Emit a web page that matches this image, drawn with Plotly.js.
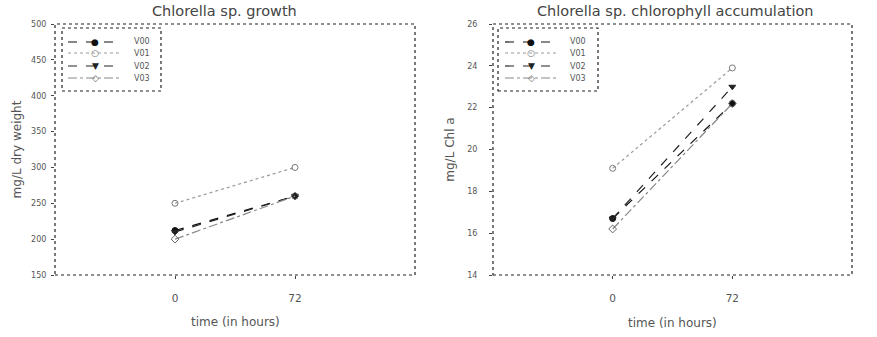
<!DOCTYPE html>
<html>
<head>
<meta charset="utf-8">
<script src="https://cdn.plot.ly/plotly-3.0.1.min.js"></script>
<style>html,body{margin:0;padding:0;background:#fff}#chart{width:877px;height:337px}</style>
</head>
<body>
<div id="chart"></div>
<script>
const times = [0, 72];
const xTickLabels = ["0", "72"];
const seriesNames = ["V00", "V01", "V02", "V03"];
const growthV00 = [212, 260];
const growthV01 = [250, 300];
const growthV02 = [210, 260];
const growthV03 = [200, 260];
const chlV00 = [16.7, 22.2];
const chlV01 = [19.1, 23.9];
const chlV02 = [16.7, 23.0];
const chlV03 = [16.2, 22.2];

const styles = [
  {color: '#111', dash: 'dash', symbol: 'circle', mcolor: '#111', glyph: '●'},
  {color: '#999', dash: 'dot', symbol: 'circle-open', mcolor: '#777', glyph: '○'},
  {color: '#222', dash: 'dash', symbol: 'triangle-down', mcolor: '#222', glyph: '▼'},
  {color: '#888', dash: 'dashdot', symbol: 'diamond-open', mcolor: '#666', glyph: '◇'}
];
const growth = [growthV00, growthV01, growthV02, growthV03];
const chl = [chlV00, chlV01, chlV02, chlV03];

const traces = [];
growth.forEach((ys, i) => traces.push({
  x: times, y: ys, name: seriesNames[i], type: 'scatter', mode: 'lines+markers',
  xaxis: 'x', yaxis: 'y', showlegend: false,
  line: {color: styles[i].color, dash: styles[i].dash, width: 1.2},
  marker: {symbol: styles[i].symbol, color: styles[i].mcolor, size: 6, line: {color: styles[i].mcolor, width: 1}}
}));
chl.forEach((ys, i) => traces.push({
  x: times, y: ys, name: seriesNames[i], type: 'scatter', mode: 'lines+markers',
  xaxis: 'x2', yaxis: 'y2', showlegend: false,
  line: {color: styles[i].color, dash: styles[i].dash, width: 1.2},
  marker: {symbol: styles[i].symbol, color: styles[i].mcolor, size: 6, line: {color: styles[i].mcolor, width: 1}}
}));

const W = 877, H = 337;
const px = v => v / W, py = v => 1 - v / H;
const tickFont = {family: 'DejaVu Sans', size: 8, color: '#555'};
const xAxisBase = {
  range: [-72, 144], tickvals: times, ticktext: xTickLabels, showgrid: false, zeroline: false,
  showline: false, ticks: 'outside', ticklen: 3, tickcolor: '#444', ticklabelstandoff: 10,
  tickfont: {family: 'DejaVu Sans', size: 10.5, color: '#555'}
};
const frameShape = (xr, yr) => ({type: 'rect', xref: xr + ' domain', yref: yr + ' domain', x0: 0, x1: 1, y0: 0, y1: 1,
  line: {color: '#222', width: 1.2, dash: 'dot'}, fillcolor: 'rgba(0,0,0,0)'});

const shapes = [frameShape('x', 'y'), frameShape('x2', 'y2')];
const annotations = [
  {text: 'Chlorella sp. growth', xref: 'paper', yref: 'paper', x: px(224), y: py(11), xanchor: 'center', yanchor: 'middle', showarrow: false,
    font: {family: 'DejaVu Sans', size: 14.5, color: '#444'}},
  {text: 'Chlorella sp. chlorophyll accumulation', xref: 'paper', yref: 'paper', x: px(675), y: py(11), xanchor: 'center', yanchor: 'middle', showarrow: false,
    font: {family: 'DejaVu Sans', size: 14.5, color: '#444'}},
  {text: 'time (in hours)', xref: 'paper', yref: 'paper', x: px(235), y: py(322), xanchor: 'center', yanchor: 'middle', showarrow: false,
    font: {family: 'DejaVu Sans', size: 12, color: '#555'}},
  {text: 'time (in hours)', xref: 'paper', yref: 'paper', x: px(672), y: py(323), xanchor: 'center', yanchor: 'middle', showarrow: false,
    font: {family: 'DejaVu Sans', size: 12, color: '#555'}}
];

// manual legends (Plotly's minimum legend row height is larger than the reference's)
const legendRows = [42, 53, 66, 78];
function addLegend(boxX0, boxX1, lineX0, lineX1, labelX) {
  shapes.push({type: 'rect', xref: 'paper', yref: 'paper', x0: px(boxX0), x1: px(boxX1), y0: py(91), y1: py(28),
    line: {color: '#222', width: 1.2, dash: 'dot'}, fillcolor: 'rgba(0,0,0,0)', layer: 'above'});
  seriesNames.forEach((name, i) => {
    const yy = legendRows[i];
    shapes.push({type: 'line', xref: 'paper', yref: 'paper', x0: px(lineX0), x1: px(lineX1), y0: py(yy), y1: py(yy),
      line: {color: styles[i].color, width: 1.2, dash: styles[i].dash}});
    annotations.push({text: styles[i].glyph, xref: 'paper', yref: 'paper', x: px((lineX0 + lineX1) / 2), y: py(yy),
      yanchor: 'middle', xanchor: 'center', showarrow: false, bgcolor: 'rgba(0,0,0,0)',
      font: {family: 'DejaVu Sans', size: 9, color: styles[i].mcolor}});
    annotations.push({text: name, xref: 'paper', yref: 'paper', x: px(labelX), y: py(yy), yanchor: 'middle', xanchor: 'left',
      showarrow: false, font: {family: 'DejaVu Sans', size: 8, color: '#555'}});
  });
}
addLegend(62, 161, 68, 122, 132);
addLegend(498, 598, 505, 557, 568);

const layout = {
  width: W, height: H, margin: {l: 0, r: 0, t: 0, b: 0},
  paper_bgcolor: '#fff', plot_bgcolor: '#fff', showlegend: false,
  font: {family: 'DejaVu Sans', color: '#444'},
  xaxis: Object.assign({}, xAxisBase, {domain: [px(55), px(415)], anchor: 'y'}),
  yaxis: {domain: [py(275), py(24)], range: [150, 500], dtick: 50, showgrid: false, zeroline: false, showline: false,
    ticks: 'outside', ticklen: 3, tickcolor: '#444', tickfont: tickFont, ticklabelstandoff: 3,
    title: {text: 'mg/L dry weight', font: {family: 'DejaVu Sans', size: 12, color: '#555'}, standoff: 6}},
  xaxis2: Object.assign({}, xAxisBase, {domain: [px(493), px(852)], anchor: 'y2'}),
  yaxis2: {domain: [py(275), py(24)], range: [14, 26], dtick: 2, showgrid: false, zeroline: false, showline: false,
    ticks: 'outside', ticklen: 3, tickcolor: '#444', tickfont: tickFont, anchor: 'x2', ticklabelstandoff: 10,
    title: {text: 'mg/L Chl a', font: {family: 'DejaVu Sans', size: 12, color: '#555'}, standoff: 10}},
  shapes: shapes,
  annotations: annotations
};

Plotly.newPlot('chart', traces, layout, {displayModeBar: false, staticPlot: true});
</script>
</body>
</html>
